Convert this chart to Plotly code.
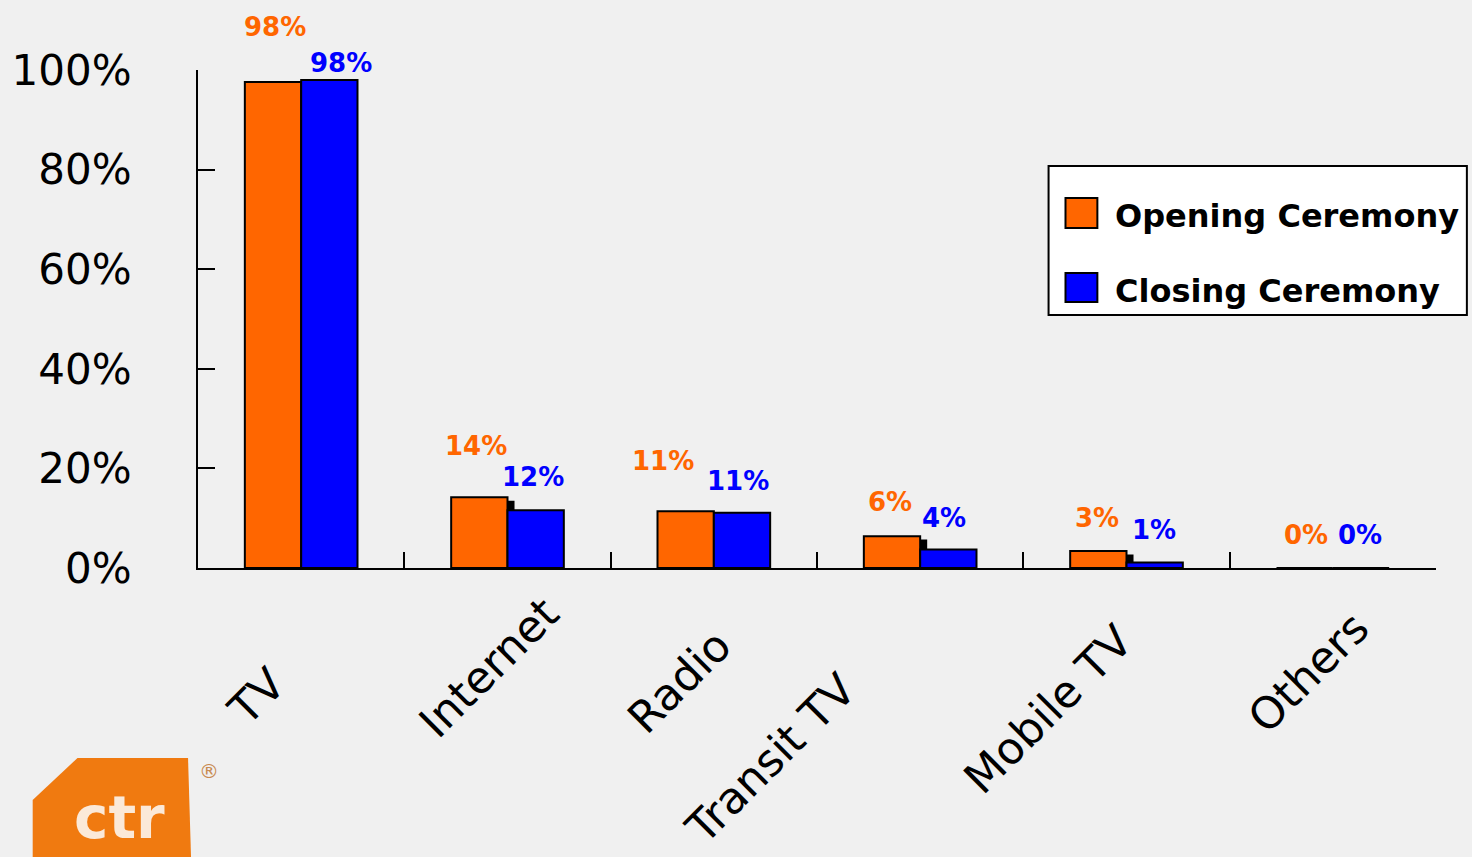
import plotly.graph_objects as go

# ---------------- data ----------------
categories = ["TV", "Internet", "Radio", "Transit TV", "Mobile TV", "Others"]
opening = [97.6, 14.2, 11.4, 6.4, 3.4, 0.0]
closing = [98.0, 11.6, 11.1, 3.7, 1.1, 0.0]
series_names = ["Opening Ceremony", "Closing Ceremony"]
y_ticks = [0, 20, 40, 60, 80, 100]
y_tick_labels = ["0%", "20%", "40%", "60%", "80%", "100%"]

# ---------------- style ----------------
W, H = 1472, 857
ML, MR, MT, MB = 193, 36, 70, 289
ORANGE = "#FF6600"
BLUE = "#0000FF"
BG = "#f0f0f0"
FONT = "DejaVu Sans"
BAR_W = 0.273
SHADOW_DX = 0.034   # category units
SHADOW_DY = 0.7     # % units

# label placement (pixels relative to category centre / bar top)
lab_dx_open = [-26, -32, -51, -30, -30, -27]
lab_dx_close = [40, 25, 24, 24, 27, 27]
lab_dy_open = [55, 51, 50, 34, 33, 33]
lab_dy_close = [17, 33, 32, 32, 33, 33]
cat_dx = [-45, -19, -35, -150, -79, -25]
cat_dy = [128, 99, 113, 190, 141, 104]

PW = W - ML - MR
PH = H - MT - MB


def px(x):
    return (x - ML) / PW


def py(y):
    return (H - MB - y) / PH


fig = go.Figure()

# shadow of the orange bars
fig.add_trace(go.Bar(
    x=categories, y=opening, base=[-SHADOW_DY] * len(categories),
    offset=-BAR_W + SHADOW_DX, width=BAR_W,
    marker=dict(color="black", line=dict(width=0)),
    showlegend=False, hoverinfo="skip", cliponaxis=False,
))
fig.add_trace(go.Bar(
    x=categories, y=opening, name=series_names[0],
    offset=-BAR_W, width=BAR_W,
    marker=dict(color=ORANGE, line=dict(color="black", width=2)),
    showlegend=False, cliponaxis=False,
))
fig.add_trace(go.Bar(
    x=categories, y=closing, name=series_names[1],
    offset=0, width=BAR_W,
    marker=dict(color=BLUE, line=dict(color="black", width=2)),
    showlegend=False, cliponaxis=False,
))

annotations = []
for i, c in enumerate(categories):
    annotations.append(dict(
        x=c, y=opening[i], xref="x", yref="y", text=f"{round(opening[i])}%",
        showarrow=False, xanchor="center", yanchor="middle",
        xshift=lab_dx_open[i], yshift=lab_dy_open[i],
        font=dict(family=FONT, size=26, color=ORANGE, weight="bold"),
    ))
    annotations.append(dict(
        x=c, y=closing[i], xref="x", yref="y", text=f"{round(closing[i])}%",
        showarrow=False, xanchor="center", yanchor="middle",
        xshift=lab_dx_close[i], yshift=lab_dy_close[i],
        font=dict(family=FONT, size=26, color=BLUE, weight="bold"),
    ))
    annotations.append(dict(
        x=c, y=0, xref="x", yref="y", text=c, textangle=-45,
        showarrow=False, xanchor="center", yanchor="middle",
        xshift=cat_dx[i], yshift=-cat_dy[i],
        font=dict(family=FONT, size=44, color="black"),
    ))

# legend (drawn manually to get large swatches)
shapes = [
    dict(type="rect", xref="paper", yref="paper",
         x0=px(1047), x1=px(1467), y0=py(315), y1=py(166),
         fillcolor="white", line=dict(color="black", width=2), layer="below"),
    dict(type="rect", xref="paper", yref="paper",
         x0=px(1064), x1=px(1096), y0=py(228), y1=py(198),
         fillcolor=ORANGE, line=dict(color="black", width=2)),
    dict(type="rect", xref="paper", yref="paper",
         x0=px(1064), x1=px(1096), y0=py(302), y1=py(273),
         fillcolor=BLUE, line=dict(color="black", width=2)),
]
for name, yy in zip(series_names, [216, 291]):
    annotations.append(dict(
        x=px(1112), y=py(yy), xref="paper", yref="paper", text=name,
        showarrow=False, xanchor="left", yanchor="middle",
        font=dict(family=FONT, size=32, color="black", weight="bold"),
    ))

# ctr logo in the corner
logo_path = "M {} {} L {} {} L {} {} L {} {} L {} {} Z".format(
    px(27), py(857), px(27), py(800), px(72), py(758), px(183), py(758), px(186), py(857))
shapes.append(dict(type="path", xref="paper", yref="paper", path=logo_path,
                   fillcolor="#F07A10", line=dict(width=0), layer="below"))
annotations.append(dict(
    x=px(66), y=py(854), xref="paper", yref="paper", text="ctr",
    showarrow=False, xanchor="left", yanchor="bottom",
    font=dict(family=FONT, size=58, color="#fbe9d8", weight="bold"),
))
annotations.append(dict(
    x=px(204), y=py(771), xref="paper", yref="paper", text="®",
    showarrow=False, xanchor="center", yanchor="middle",
    font=dict(family=FONT, size=20, color="#c88a50"),
))

fig.update_layout(
    width=W, height=H,
    margin=dict(l=ML, r=MR, t=MT, b=MB),
    paper_bgcolor=BG, plot_bgcolor="rgba(0,0,0,0)",
    barmode="overlay",
    showlegend=False,
    shapes=shapes,
    annotations=annotations,
    xaxis=dict(
        type="category", categoryorder="array", categoryarray=categories,
        showgrid=False, zeroline=False,
        showline=True, linecolor="black", linewidth=2,
        ticks="inside", tickson="boundaries", ticklen=16, tickwidth=2,
        tickcolor="black", showticklabels=False,
    ),
    yaxis=dict(
        range=[0, 100], tickvals=y_ticks, ticktext=y_tick_labels,
        showgrid=False, zeroline=False,
        showline=True, linecolor="black", linewidth=2,
        ticks="inside", ticklen=17, tickwidth=2, tickcolor="black",
        ticklabelstandoff=56,
        tickfont=dict(family=FONT, size=42, color="black"),
    ),
)

fig.write_html(
    "out.html",
    config={"displayModeBar": False},
    post_script="document.body.style.margin='0';document.body.style.overflow='hidden';"
                "document.body.style.background='" + BG + "';",
)
